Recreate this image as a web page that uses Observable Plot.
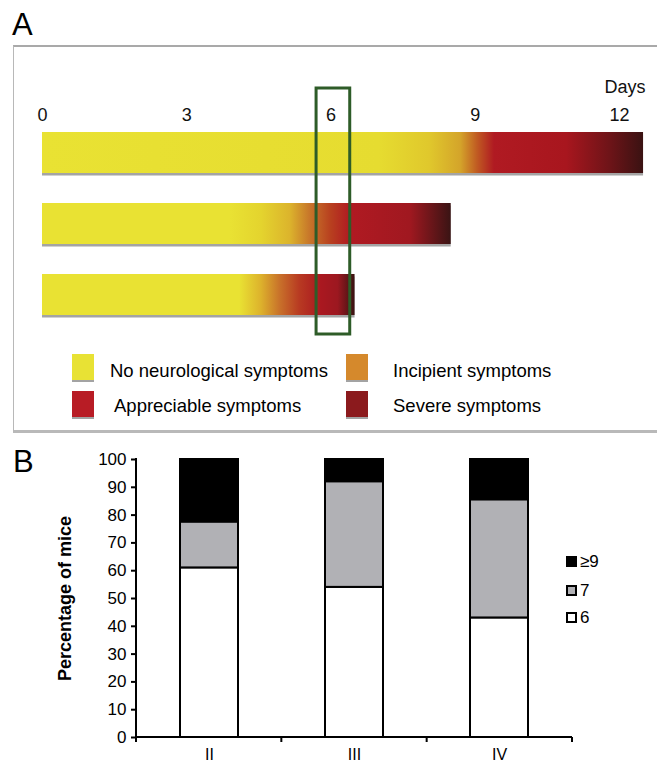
<!DOCTYPE html>
<html>
<head>
<meta charset="utf-8">
<script src="https://cdn.jsdelivr.net/npm/d3@7"></script>
<script src="https://cdn.jsdelivr.net/npm/@observablehq/plot@0.6"></script>
<style>
  html, body { margin: 0; padding: 0; background: #ffffff; }
  body { width: 657px; height: 765px; position: relative; overflow: hidden;
         font-family: "Liberation Sans", Arial, sans-serif; color: #000; }
  .abs { position: absolute; white-space: nowrap; }
  .panel-label { font-size: 31px; line-height: 31px; }
  .frameA { position: absolute; left: 13px; top: 45px; width: 700px; height: 383px;
            border-top: 2px solid #a9a9a9; border-left: 1px solid #b8b8b8; border-bottom: 3px solid #b9b9b9; }
  .swA { position: absolute; width: 22px; height: 26px; border-bottom: 2px solid #a3a3a3; }
  .txtA { position: absolute; font-size: 18.5px; line-height: 18.5px; white-space: nowrap; }
  .swB { position: absolute; width: 7px; height: 7px; border: 2px solid #000; }
  .txtB { position: absolute; font-size: 17px; line-height: 17px; white-space: nowrap; }
  #plotA, #plotB { position: absolute; left: 0; }
  #plotA { top: 0; }
  #plotB { top: 430px; }
</style>
</head>
<body>
<div class="abs panel-label" style="left:12px; top:9px;">A</div>
<div class="frameA"></div>
<div id="plotA"></div>
<div id="legendA"></div>
<div class="abs panel-label" style="left:13px; top:446px;">B</div>
<div id="plotB"></div>
<div id="legendB"></div>
<script>
// ---------- Panel A data ----------
const mice = ["1", "2", "3"];
const survivalDays = [12.5, 8.5, 6.5];
const dayTicks = [0, 3, 6, 9, 12];
const windowDays = [5.7, 6.4];
// colour stops along each bar: [day, colour]
const stopsMouse1 = [[0, "#e9e233"], [7.0, "#e6dc30"], [8.05, "#e0c82c"], [8.7, "#d4a42a"], [9.05, "#c05a22"],
                     [9.4, "#b01a22"], [10.9, "#a8161e"], [11.8, "#6e1418"], [12.5, "#3a1212"]];
const stopsMouse2 = [[0, "#e9e233"], [3.9, "#e9e233"], [4.55, "#e4d42e"], [5.15, "#dcb42c"], [5.55, "#c8782a"],
                     [6.0, "#b8401f"], [6.4, "#b01a22"], [7.65, "#a01820"], [8.5, "#3a1414"]];
const stopsMouse3 = [[0, "#e9e233"], [4.1, "#e9e233"], [4.55, "#ddb22c"], [4.95, "#c8702a"], [5.35, "#b83a22"],
                     [5.8, "#aa1820"], [6.15, "#9c1820"], [6.5, "#3a1212"]];
const gradientStops = [stopsMouse1, stopsMouse2, stopsMouse3];
const symptomLabels = ["No neurological symptoms", "Incipient symptoms", "Appreciable symptoms", "Severe symptoms"];
const symptomColors = ["#e8e234", "#d5892c", "#b81c25", "#8b1a1d"];

// ---------- Panel B data ----------
const groups = ["II", "III", "IV"];
const pct6 = [61, 54, 43];
const pct7 = [16.5, 38, 42.5];
const pct9 = [22.5, 8, 14.5];
const seriesNames = ["6", "7", "≥9"];
const seriesColors = ["#ffffff", "#b1b1b5", "#000000"];
const yTicks = [0, 10, 20, 30, 40, 50, 60, 70, 80, 90, 100];

const FONT = "Liberation Sans, Arial, sans-serif";

// ---------- Panel A ----------
const rowsA = mice.map((m, i) => ({row: m, end: survivalDays[i]}));
const plotA = Plot.plot({
  width: 657,
  height: 440,
  marginLeft: 42,
  marginRight: 38,
  marginTop: 88,
  marginBottom: 106,
  style: {fontFamily: FONT, fontSize: "18px", background: "transparent", overflow: "visible"},
  x: {domain: [0, 12], axis: null},
  y: {type: "band", domain: mice, range: [132, 315.2], paddingInner: 0.42, paddingOuter: 0, axis: null},
  color: {type: "identity"},
  marks: [
    () => {
      const defs = d3.create("svg:defs");
      mice.forEach((m, i) => {
        const g = defs.append("linearGradient").attr("id", "gradMouse" + m)
          .attr("x1", "0%").attr("x2", "100%").attr("y1", "0%").attr("y2", "0%");
        gradientStops[i].forEach(([d, c]) => g.append("stop").attr("offset", d / survivalDays[i]).attr("stop-color", c));
      });
      return defs.node();
    },
    Plot.barX(rowsA, {y: "row", x1: d => 0, x2: "end", fill: d => "#a4a4a4", dy: 2.5}),
    Plot.barX(rowsA, {y: "row", x1: d => 0, x2: "end", fill: d => `url(#gradMouse${d.row})`}),
    Plot.text(dayTicks, {x: d => d, frameAnchor: "top", lineAnchor: "middle", dy: 27, text: d => String(d), fontSize: 18, fill: "#111"}),
    Plot.text(["Days"], {frameAnchor: "top-right", lineAnchor: "middle", textAnchor: "end", dx: 26, dy: -1, fontSize: 18, fill: "#111"}),
    Plot.rect([windowDays], {x1: d => d[0], x2: d => d[1], fill: "none", stroke: "#2e5c28", strokeWidth: 3})
  ]
});
document.getElementById("plotA").appendChild(plotA);

// Legend A
const legA = document.getElementById("legendA");
const legPos = [
  {sx: 72, tx: 110, row: 0}, {sx: 346, tx: 393, row: 0},
  {sx: 72, tx: 114, row: 1}, {sx: 346, tx: 393, row: 1}
];
const rowSq = [354, 391];
const rowTxt = [371, 406];
symptomLabels.forEach((lab, i) => {
  const p = legPos[i];
  const sq = document.createElement("div");
  sq.className = "swA";
  sq.style.left = p.sx + "px";
  sq.style.top = rowSq[p.row] + "px";
  sq.style.background = symptomColors[i];
  legA.appendChild(sq);
  const t = document.createElement("div");
  t.className = "txtA";
  t.style.left = p.tx + "px";
  t.style.top = (rowTxt[p.row] - 9.25) + "px";
  t.textContent = lab;
  legA.appendChild(t);
});

// ---------- Panel B ----------
const dataB = groups.flatMap((g, i) => [
  {group: g, series: seriesNames[0], value: pct6[i]},
  {group: g, series: seriesNames[1], value: pct7[i]},
  {group: g, series: seriesNames[2], value: pct9[i]}
]);
const plotB = Plot.plot({
  width: 657,
  height: 335,
  marginLeft: 136,
  marginRight: 85,
  marginTop: 29,
  marginBottom: 28,
  style: {fontFamily: FONT, fontSize: "17px", background: "transparent", overflow: "visible"},
  x: {type: "band", domain: groups, paddingInner: 0.6, paddingOuter: 0.3},
  y: {domain: [0, 100]},
  color: {domain: seriesNames, range: seriesColors},
  marks: [
    Plot.barY(dataB, {x: "group", y: "value", fill: "series", stroke: "#000", strokeWidth: 2}),
    Plot.axisY({ticks: yTicks, tickSize: 5, tickPadding: 5, fontSize: 17, label: null, strokeWidth: 2, fill: "#000"}),
    Plot.axisX({tickSize: 0, tickPadding: 11, fontSize: 16, label: null, fill: "#000"}),
    (index, scales, values, dims) => {
      const g = d3.create("svg:g").attr("stroke", "#000").attr("stroke-width", 2).attr("fill", "none");
      const y0 = scales.y(0), y100 = scales.y(100);
      const xl = dims.marginLeft, xr = dims.width - dims.marginRight;
      g.append("line").attr("x1", xl).attr("x2", xl).attr("y1", y100 - 1).attr("y2", y0 + 5);
      g.append("line").attr("x1", xl).attr("x2", xr).attr("y1", y0).attr("y2", y0);
      const step = (xr - xl) / groups.length;
      groups.forEach((_, k) => {
        const xx = xl + step * (k + 1);
        g.append("line").attr("x1", xx).attr("x2", xx).attr("y1", y0).attr("y2", y0 + 5);
      });
      return g.node();
    },
    Plot.text(["Percentage of mice"], {frameAnchor: "left", rotate: -90, textAnchor: "middle", lineAnchor: "middle", dx: -71, fontSize: 18, fontWeight: "bold", fill: "#000"})
  ]
});
document.getElementById("plotB").appendChild(plotB);

// Legend B (top entry is ≥9)
const legB = document.getElementById("legendB");
const legBCenters = [561, 590, 617];
[2, 1, 0].forEach((si, r) => {
  const sq = document.createElement("div");
  sq.className = "swB";
  sq.style.left = "566px";
  sq.style.top = (legBCenters[r] - 5.5) + "px";
  sq.style.background = seriesColors[si];
  legB.appendChild(sq);
  const t = document.createElement("div");
  t.className = "txtB";
  t.style.left = "580px";
  t.style.top = (legBCenters[r] - 8.5) + "px";
  t.textContent = seriesNames[si];
  legB.appendChild(t);
});
</script>
</body>
</html>
